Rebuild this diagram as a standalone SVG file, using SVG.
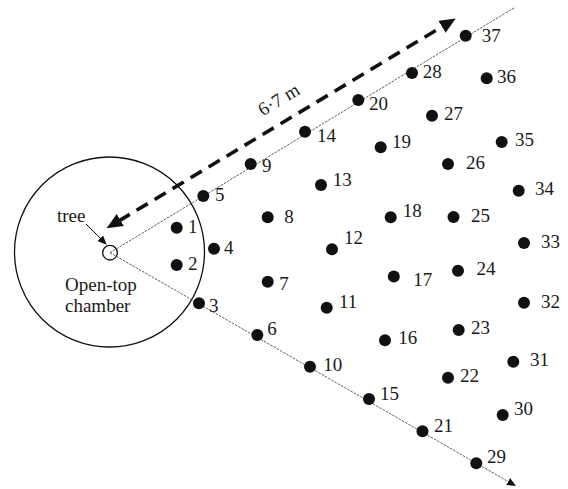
<svg xmlns="http://www.w3.org/2000/svg" width="568" height="489" viewBox="0 0 568 489">
  <style>
    text { font-family: "Liberation Serif", "Times New Roman", serif; font-size: 19px; fill: #1a1a1a; }
    .dot { fill: #111; }
    .ray { stroke: #333; stroke-width: 0.8; stroke-dasharray: 2.5 1.2; fill: none; }
    .dist { stroke: #111; stroke-width: 3.6; stroke-dasharray: 13 8; fill: none; }
  </style>
  <defs>
    <marker id="bigHead" markerUnits="userSpaceOnUse" markerWidth="16" markerHeight="14" refX="2" refY="7" orient="auto-start-reverse">
      <path d="M0,0 L16,7 L0,14 z" fill="#111"/>
    </marker>
    <marker id="smallHead" markerUnits="userSpaceOnUse" markerWidth="9" markerHeight="8" refX="1" refY="4" orient="auto">
      <path d="M0,0 L9,4 L0,8 z" fill="#111"/>
    </marker>
  </defs>

  <!-- chamber and tree -->
  <g id="chamber">
    <circle cx="109.5" cy="252" r="95" fill="none" stroke="#111" stroke-width="1.3"/>
    <text x="65" y="290.5">Open-top</text>
    <text x="65" y="311.5">chamber</text>
  </g>
  <g id="tree">
    <circle cx="110" cy="252.7" r="7.3" fill="#fff" stroke="#111" stroke-width="1.3"/>
    <text x="57" y="222">tree</text>
  </g>

  <!-- rays, distance arrow and label pointer -->
  <g id="connectors">
    <line class="ray" x1="110" y1="252.7" x2="514" y2="7.9"/>
    <line class="ray" x1="110" y1="252.7" x2="509" y2="482" marker-end="url(#smallHead)"/>
    <line class="dist" x1="118.6" y1="221.1" x2="443.7" y2="25.7" marker-start="url(#bigHead)" marker-end="url(#bigHead)"/>
    <line x1="86" y1="224" x2="101" y2="239" stroke="#111" stroke-width="1" marker-end="url(#smallHead)"/>
    <text x="0" y="0" text-anchor="middle" transform="translate(282 105) rotate(-31)">6·7 m</text>
  </g>

  <!-- sampling points -->
  <g id="p1"><circle class="dot" cx="176.7" cy="227.7" r="6"/><text x="188" y="233">1</text></g>
  <g id="p2"><circle class="dot" cx="176.7" cy="265" r="6"/><text x="188" y="270">2</text></g>
  <g id="p3"><circle class="dot" cx="199" cy="303.3" r="6"/><text x="209" y="312">3</text></g>
  <g id="p4"><circle class="dot" cx="214" cy="248.7" r="6"/><text x="224" y="254">4</text></g>
  <g id="p5"><circle class="dot" cx="203.3" cy="196" r="6"/><text x="215" y="201">5</text></g>
  <g id="p6"><circle class="dot" cx="257.3" cy="335" r="6"/><text x="267.3" y="335">6</text></g>
  <g id="p7"><circle class="dot" cx="267.7" cy="281.7" r="6"/><text x="279.3" y="290">7</text></g>
  <g id="p8"><circle class="dot" cx="267.7" cy="217.3" r="6"/><text x="284.3" y="223.3">8</text></g>
  <g id="p9"><circle class="dot" cx="250.7" cy="164" r="6"/><text x="262" y="172">9</text></g>
  <g id="p10"><circle class="dot" cx="310" cy="366.7" r="6"/><text x="323.3" y="371">10</text></g>
  <g id="p11"><circle class="dot" cx="326.7" cy="307.7" r="6"/><text x="339" y="308.3">11</text></g>
  <g id="p12"><circle class="dot" cx="332" cy="249.3" r="6"/><text x="344" y="244.3">12</text></g>
  <g id="p13"><circle class="dot" cx="321" cy="185" r="6"/><text x="332.7" y="185.7">13</text></g>
  <g id="p14"><circle class="dot" cx="305" cy="131.7" r="6"/><text x="317" y="141.7">14</text></g>
  <g id="p15"><circle class="dot" cx="369" cy="399" r="6"/><text x="380" y="400">15</text></g>
  <g id="p16"><circle class="dot" cx="385" cy="340.3" r="6"/><text x="398.3" y="344">16</text></g>
  <g id="p17"><circle class="dot" cx="393.8" cy="276.4" r="6"/><text x="413.3" y="285.5">17</text></g>
  <g id="p18"><circle class="dot" cx="390.7" cy="217.3" r="6"/><text x="402.7" y="217.3">18</text></g>
  <g id="p19"><circle class="dot" cx="380.7" cy="147.3" r="6"/><text x="392" y="148">19</text></g>
  <g id="p20"><circle class="dot" cx="358.3" cy="100" r="6"/><text x="369" y="110">20</text></g>
  <g id="p21"><circle class="dot" cx="422.5" cy="431.2" r="6"/><text x="434" y="432">21</text></g>
  <g id="p22"><circle class="dot" cx="448" cy="377.7" r="6"/><text x="460" y="382.3">22</text></g>
  <g id="p23"><circle class="dot" cx="458.7" cy="330" r="6"/><text x="471" y="334.3">23</text></g>
  <g id="p24"><circle class="dot" cx="458" cy="270.7" r="6"/><text x="476.5" y="275">24</text></g>
  <g id="p25"><circle class="dot" cx="453.5" cy="217" r="6"/><text x="471" y="222">25</text></g>
  <g id="p26"><circle class="dot" cx="448" cy="164" r="6"/><text x="466" y="169">26</text></g>
  <g id="p27"><circle class="dot" cx="432" cy="115.7" r="6"/><text x="444" y="120">27</text></g>
  <g id="p28"><circle class="dot" cx="412" cy="73" r="6"/><text x="422.7" y="78">28</text></g>
  <g id="p29"><circle class="dot" cx="476.3" cy="463.3" r="6"/><text x="487" y="463">29</text></g>
  <g id="p30"><circle class="dot" cx="502.7" cy="415" r="6"/><text x="514" y="415">30</text></g>
  <g id="p31"><circle class="dot" cx="513.3" cy="361.7" r="6"/><text x="530" y="366">31</text></g>
  <g id="p32"><circle class="dot" cx="524" cy="302.7" r="6"/><text x="541" y="308">32</text></g>
  <g id="p33"><circle class="dot" cx="524" cy="243" r="6"/><text x="541" y="248">33</text></g>
  <g id="p34"><circle class="dot" cx="518.7" cy="190.7" r="6"/><text x="535" y="195">34</text></g>
  <g id="p35"><circle class="dot" cx="501.7" cy="142" r="6"/><text x="515" y="146">35</text></g>
  <g id="p36"><circle class="dot" cx="486.7" cy="78.3" r="6"/><text x="497" y="83">36</text></g>
  <g id="p37"><circle class="dot" cx="465.7" cy="35.7" r="6"/><text x="481.7" y="41.7">37</text></g>
</svg>
